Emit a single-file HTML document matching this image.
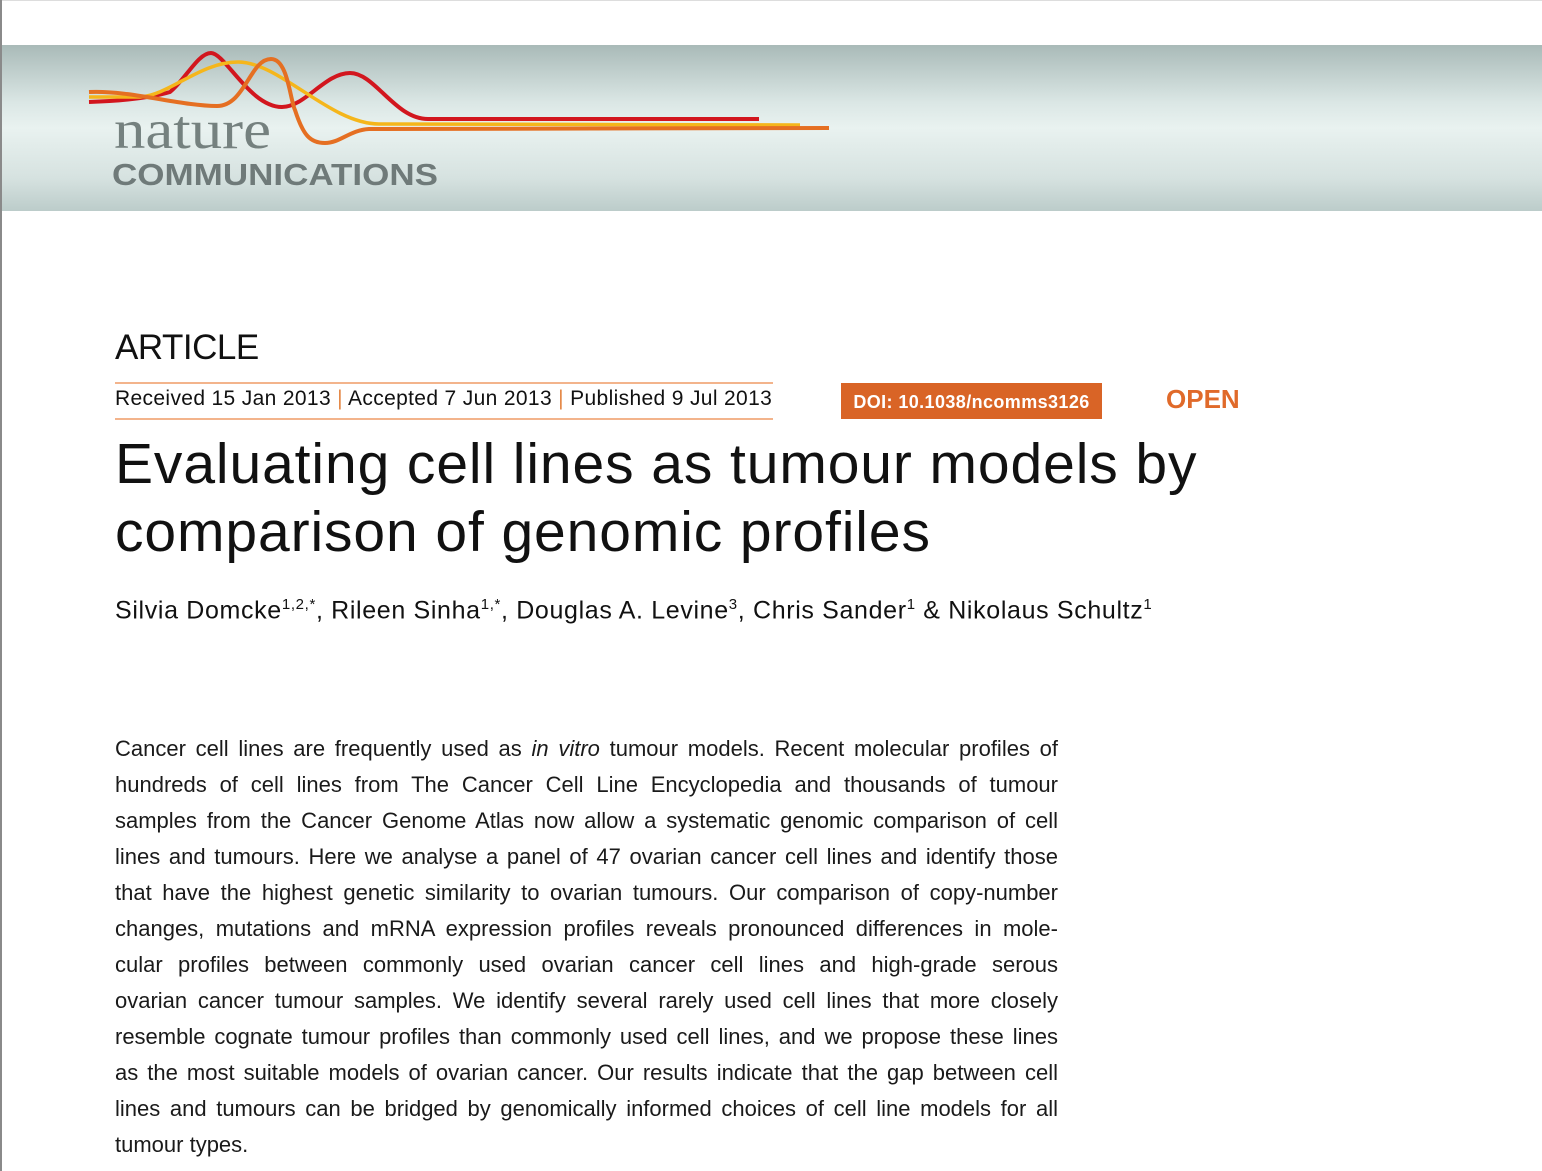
<!DOCTYPE html>
<html><head><meta charset="utf-8"><style>
body{margin:0;width:1542px;height:1171px;background:#fff;position:relative;overflow:hidden;font-family:"Liberation Sans","DejaVu Sans",sans-serif;color:#111}
.abs{position:absolute}
#edge{left:0;top:0;width:2px;height:1171px;background:#8a8a8a}
#topline{left:0;top:0;width:1542px;height:1px;background:#ddd}
#banner{left:2px;top:45px;width:1540px;height:166px;background:linear-gradient(#a9bab8 0%,#dbe7e5 35%,#e9f2f0 50%,#d6e2e0 80%,#bcccca 100%)}
#abstract{left:115px;top:731px;width:943px;font-size:22px;line-height:36px;color:#1a1a1a}
#abstract div{text-align:justify;text-align-last:justify;white-space:nowrap}
#abstract div.last{text-align-last:left}
</style></head><body>
<div class="abs" id="topline"></div>
<div class="abs" id="edge"></div>
<div class="abs" id="banner"></div>
<svg class="abs" style="left:0;top:0" width="900" height="211">
<path d="M89 102 C120 101 150 98 170 92 C185 80 198 53 211 53 C225 53 250 107 282 107 C305 107 325 73 350 73 C375 73 395 119 428 119 L759 119" stroke="#d2161e" stroke-width="4" fill="none"/>
<path d="M89 97 L140 97 C170 95 200 62 238 62 C280 62 330 124 379 124 L800 125" stroke="#f5b61b" stroke-width="3.5" fill="none"/>
<path d="M89 92 C130 90 180 106 217 106 C245 106 250 59 271 59 C288 59 290 100 295 110 C303 135 310 143 325 143 C340 143 350 130 369 129 L829 128" stroke="#e56f22" stroke-width="4" fill="none"/>
<text x="114" y="148" font-family="Liberation Serif,serif" font-size="55" fill="#75817f" textLength="157" lengthAdjust="spacingAndGlyphs">nature</text>
<text x="112" y="185" font-family="Liberation Sans,sans-serif" font-weight="bold" font-size="31" fill="#6f7a79" textLength="326" lengthAdjust="spacingAndGlyphs">COMMUNICATIONS</text>
</svg>
<div class="abs" style="left:115px;top:328px;font-size:35px;letter-spacing:-0.5px;color:#111">ARTICLE</div>
<div class="abs" style="left:115px;top:382px;width:658px;height:34px;border-top:2px solid #f3b48c;border-bottom:2px solid #f3b48c"></div>
<div class="abs" style="left:115px;top:387px;font-size:21px;white-space:nowrap;letter-spacing:0.35px">Received 15 Jan 2013 <span style="color:#e58a4a">|</span> Accepted 7 Jun 2013 <span style="color:#e58a4a">|</span> Published 9 Jul 2013</div>
<div class="abs" style="left:841px;top:383px;width:261px;height:36px;background:#d96426;color:#fff;font-weight:bold;font-size:18px;line-height:38px;text-align:center;letter-spacing:0.4px">DOI: 10.1038/ncomms3126</div>
<div class="abs" style="left:1166px;top:384px;color:#e06a2a;font-weight:bold;font-size:26px">OPEN</div>
<div class="abs" style="left:115px;top:430px;font-size:57px;line-height:68px;width:1250px;color:#111;letter-spacing:0.9px">Evaluating cell lines as tumour models by<br>comparison of genomic profiles</div>
<div class="abs" style="left:115px;top:596px;font-size:25px;white-space:nowrap;letter-spacing:0.65px">Silvia Domcke<sup style="font-size:15px">1,2,*</sup>, Rileen Sinha<sup style="font-size:15px">1,*</sup>, Douglas A. Levine<sup style="font-size:15px">3</sup>, Chris Sander<sup style="font-size:15px">1</sup> &amp; Nikolaus Schultz<sup style="font-size:15px">1</sup></div>
<div class="abs" id="abstract">
<div>Cancer cell lines are frequently used as <i>in vitro</i> tumour models. Recent molecular profiles of</div>
<div>hundreds of cell lines from The Cancer Cell Line Encyclopedia and thousands of tumour</div>
<div>samples from the Cancer Genome Atlas now allow a systematic genomic comparison of cell</div>
<div>lines and tumours. Here we analyse a panel of 47 ovarian cancer cell lines and identify those</div>
<div>that have the highest genetic similarity to ovarian tumours. Our comparison of copy-number</div>
<div>changes, mutations and mRNA expression profiles reveals pronounced differences in mole-</div>
<div>cular profiles between commonly used ovarian cancer cell lines and high-grade serous</div>
<div>ovarian cancer tumour samples. We identify several rarely used cell lines that more closely</div>
<div>resemble cognate tumour profiles than commonly used cell lines, and we propose these lines</div>
<div>as the most suitable models of ovarian cancer. Our results indicate that the gap between cell</div>
<div>lines and tumours can be bridged by genomically informed choices of cell line models for all</div>
<div class="last">tumour types.</div>
</div>
</body></html>
